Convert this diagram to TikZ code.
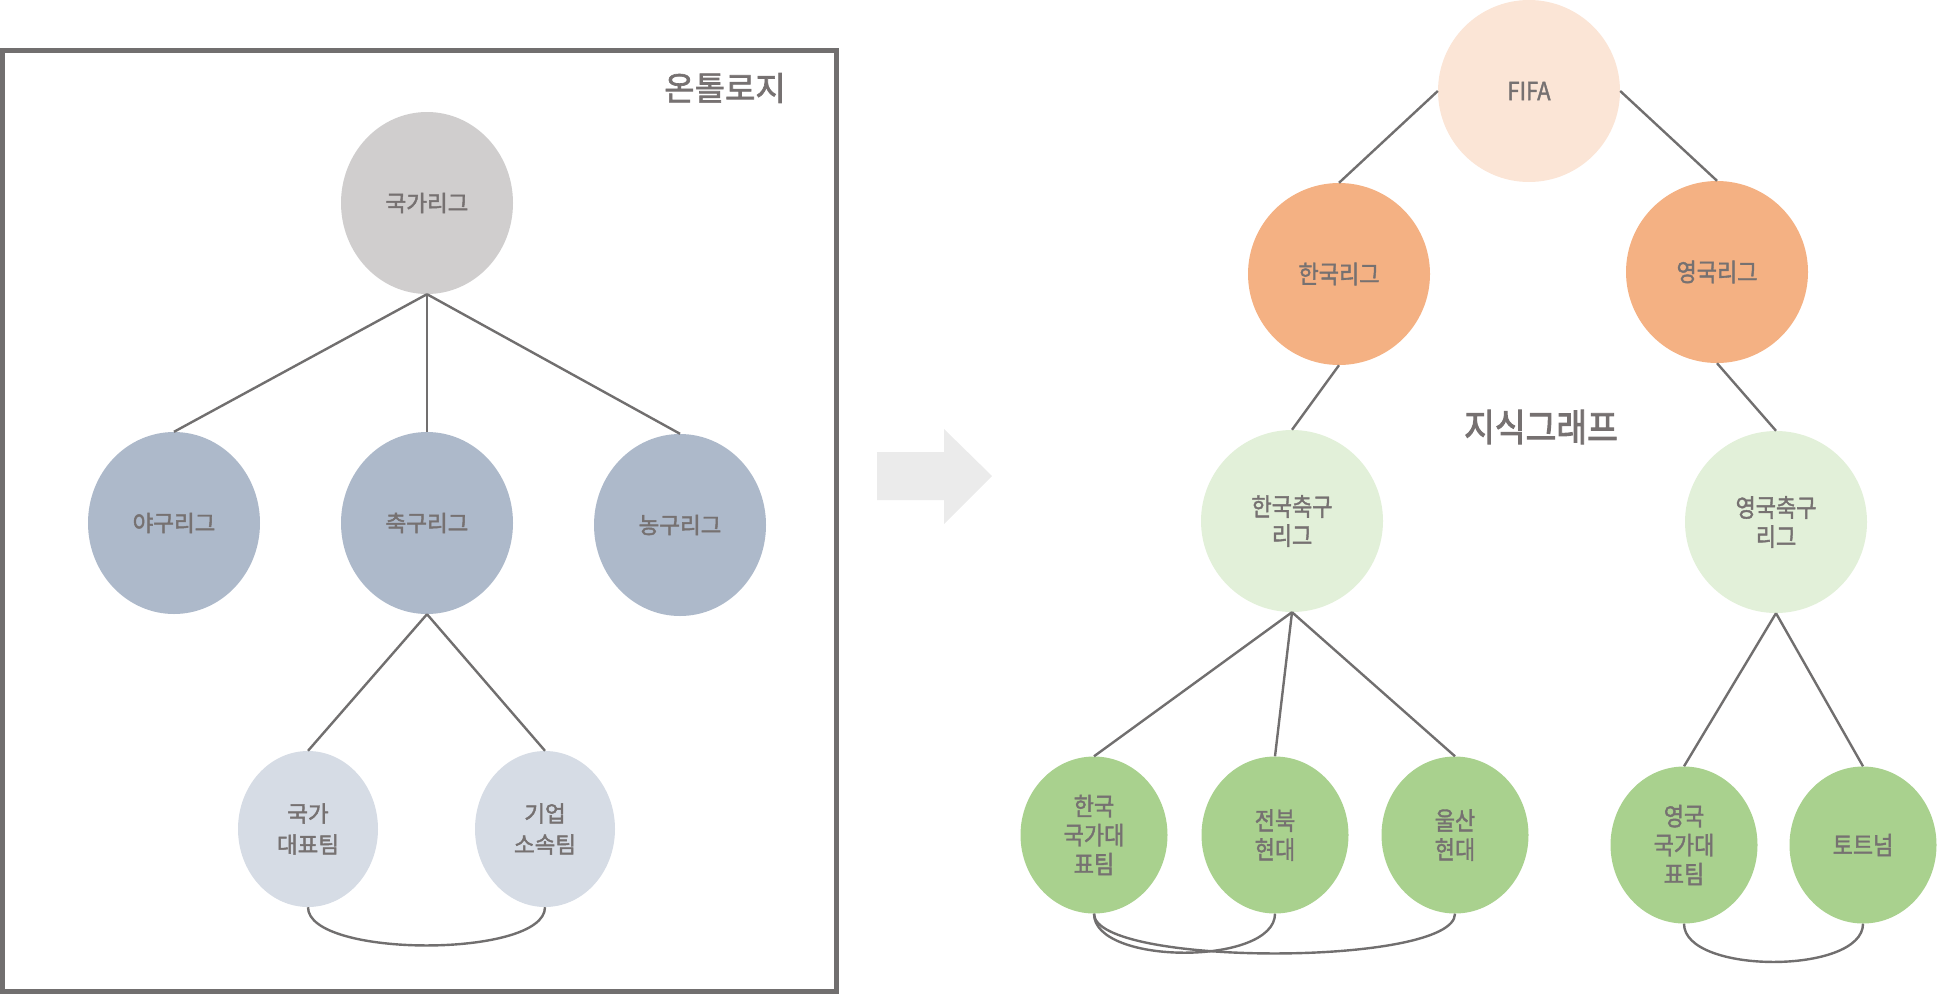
\documentclass[tikz,border=0pt]{standalone}
\usepackage{fontspec}
\setmainfont{Noto Sans CJK KR}
\newfontfamily\krmed[FakeBold=2]{Noto Sans CJK KR}
\newfontfamily\krnarrow[FakeStretch=0.88, FakeBold=1.5]{Noto Sans CJK KR}
\newfontfamily\krtitle[FakeStretch=0.88, FakeBold=2.5]{Noto Sans CJK KR}
\usepackage{tikz}
\usetikzlibrary{shapes.geometric}

\definecolor{txtgray}{HTML}{767171}
\definecolor{linegray}{HTML}{716F6F}
\definecolor{rootgray}{HTML}{D0CECE}
\definecolor{midblue}{HTML}{ADB9CA}
\definecolor{lightblue}{HTML}{D6DCE5}
\definecolor{fifapeach}{HTML}{FBE5D6}
\definecolor{leagueorange}{HTML}{F4B183}
\definecolor{lightgreen}{HTML}{E2F0D9}
\definecolor{teamgreen}{HTML}{A9D18E}
\definecolor{arrowgray}{HTML}{EBEBEB}

\begin{document}
\begin{tikzpicture}[x=1pt, y=-1pt,
    every node/.style={text=txtgray},
    onto/.style={ellipse, inner sep=0pt, minimum width=172pt, minimum height=182pt,
                 align=center, font=\krmed\fontsize{22.5}{31}\selectfont},
    ontosmall/.style={onto, minimum width=140pt, minimum height=156pt},
    grafo/.style={ellipse, inner sep=0pt, minimum width=182pt, minimum height=182pt,
                  align=center, font=\krnarrow\fontsize{25}{29}\selectfont},
    grafosmall/.style={grafo, minimum width=147pt, minimum height=157pt},
    arista/.style={draw=linegray, line width=2.4pt}]
  \useasboundingbox (0,0) rectangle (1937,996);

  % Ontologia
  \draw[draw=linegray, line width=5pt] (2.5,50.5) rectangle (836.5,991.5);
  \node[font=\krmed\fontsize{33}{40}\selectfont] (ontotitle) at (725,88) {온톨로지};

  \node[onto, fill=rootgray] (national) at (427,203) {국가리그};
  \node[onto, fill=midblue] (baseball) at (174,523) {야구리그};
  \node[onto, fill=midblue] (football) at (427,523) {축구리그};
  \node[onto, fill=midblue] (basketball) at (680,525) {농구리그};
  \node[ontosmall, fill=lightblue] (nteam) at (308,829) {국가\\대표팀};
  \node[ontosmall, fill=lightblue] (corpteam) at (545,829) {기업\\소속팀};

  \draw[arista] (national.south) -- (baseball.north);
  \draw[arista] (national.south) -- (football.north);
  \draw[arista] (national.south) -- (basketball.north);
  \draw[arista] (football.south) -- (nteam.north);
  \draw[arista] (football.south) -- (corpteam.north);
  \draw[arista] (nteam.south) .. controls +(0,51) and +(0,51) .. (corpteam.south);

  % Flecha
  \fill[arrowgray] (877,452) -- (944,452) -- (944,429) -- (992,476)
    -- (944,524) -- (944,500) -- (877,500) -- cycle;

  % Grafo de conocimiento
  \node[font=\krtitle\fontsize{38}{44}\selectfont] (kgtitle) at (1541,427) {지식그래프};

  \node[grafo, fill=fifapeach] (fifa) at (1529,91) {FIFA};
  \node[grafo, fill=leagueorange] (kleague) at (1339,274) {한국리그};
  \node[grafo, fill=leagueorange] (eleague) at (1717,272) {영국리그};
  \node[grafo, fill=lightgreen] (kfootball) at (1292,521) {한국축구\\리그};
  \node[grafo, fill=lightgreen] (efootball) at (1776,522) {영국축구\\리그};
  \node[grafosmall, fill=teamgreen] (kteam) at (1094,835) {한국\\국가대\\표팀};
  \node[grafosmall, fill=teamgreen] (jeonbuk) at (1275,835) {전북\\현대};
  \node[grafosmall, fill=teamgreen] (ulsan) at (1455,835) {울산\\현대};
  \node[grafosmall, fill=teamgreen] (eteam) at (1684,845) {영국\\국가대\\표팀};
  \node[grafosmall, fill=teamgreen] (tottenham) at (1863,845) {토트넘};

  \draw[arista] (fifa.west) -- (kleague.north);
  \draw[arista] (fifa.east) -- (eleague.north);
  \draw[arista] (kleague.south) -- (kfootball.north);
  \draw[arista] (eleague.south) -- (efootball.north);
  \draw[arista] (kfootball.south) -- (kteam.north);
  \draw[arista] (kfootball.south) -- (jeonbuk.north);
  \draw[arista] (kfootball.south) -- (ulsan.north);
  \draw[arista] (efootball.south) -- (eteam.north);
  \draw[arista] (efootball.south) -- (tottenham.north);
  \draw[arista] (kteam.south) .. controls +(0,52) and +(0,52) .. (jeonbuk.south);
  \draw[arista] (kteam.south) .. controls +(0,53) and +(0,53) .. (ulsan.south);
  \draw[arista] (eteam.south) .. controls +(0,51) and +(0,51) .. (tottenham.south);
\end{tikzpicture}
\end{document}
